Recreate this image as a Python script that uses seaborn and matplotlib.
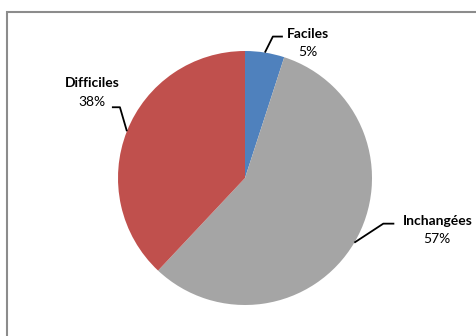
import numpy as np
import matplotlib
matplotlib.use("Agg")
import matplotlib.pyplot as plt
import seaborn as sns
from matplotlib.patches import Rectangle

categories = ["Faciles", "Inchangées", "Difficiles"]
values = [5, 57, 38]
pct_labels = ["5%", "57%", "38%"]
colors = ["#4F81BD", "#A5A5A5", "#C0504D"]

sns.set_theme(style="white")
plt.rcParams['font.family'] = ['Lato', 'DejaVu Sans']

W, H = 477, 336
fig = plt.figure(figsize=(W / 100, H / 100), dpi=100)
ax = fig.add_axes([0, 0, 1, 1])

cx, cy, r = 245, 158, 127
wedges, _ = ax.pie(values, colors=colors, startangle=90, counterclock=False,
                   center=(cx, cy), radius=r, frame=True,
                   wedgeprops=dict(linewidth=0))
ax.set_xlim(0, W)
ax.set_ylim(0, H)
ax.set_aspect("auto")
ax.axis("off")

# leader geometry: (elbow dx, elbow dy, horizontal len, text dx, name dy, pct dy)
leaders = [
    (8, 16, 10, 35, 3, -15),
    (29, 19, 11, 54, 3, -15),
    (-7, 24, -8, -28, 24, 5),
]
for w, name, pct, (ex, ey, hl, tx, ny, py_) in zip(wedges, categories, pct_labels, leaders):
    ang = np.deg2rad((w.theta1 + w.theta2) / 2)
    px, py = cx + r * np.cos(ang), cy + r * np.sin(ang)
    bx, by = px + ex, py + ey
    ax.plot([px, bx, bx + hl], [py, by, by], color="black", lw=1.3,
            solid_capstyle="butt")
    ax.text(bx + tx, by + ny, name, ha="center", va="center", fontsize=10,
            fontweight="bold", color="black")
    ax.text(bx + tx, by + py_, pct, ha="center", va="center", fontsize=10,
            color="black")

ax.add_patch(Rectangle((7, -10), W + 20, H - 12 + 10, fill=False,
                       edgecolor="#8C8C8C", lw=1.5))

fig.savefig("out.png", dpi=100)
